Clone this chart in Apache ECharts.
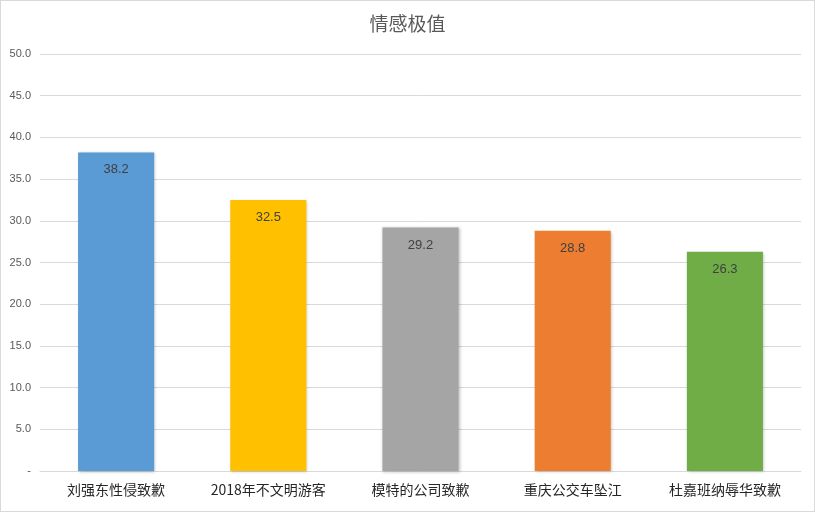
<!DOCTYPE html>
<html><head><meta charset="utf-8">
<script src="https://cdn.jsdelivr.net/npm/echarts@6/dist/echarts.min.js"></script>
<style>html,body{margin:0;padding:0;background:#fff}#c{width:813px;height:510px;border:1px solid #d9d9d9}</style>
</head><body><div id="c"></div>
<script>
var categories = ['刘强东性侵致歉','2018年不文明游客','模特的公司致歉','重庆公交车坠江','杜嘉班纳辱华致歉'];
var values = [38.2, 32.5, 29.2, 28.8, 26.3];
var colors = ['#5b9bd5','#ffc000','#a5a5a5','#ed7d31','#70ad47'];
var title = '情感极值';
var chart = echarts.init(document.getElementById('c'));
chart.setOption({
  animation:false,
  title:{text:title,left:'center',top:8,textStyle:{fontFamily:'Noto Sans CJK SC',fontSize:19,fontWeight:'normal',color:'#595959'}},
  grid:{left:39,right:13,top:53,bottom:40},
  xAxis:{type:'category',data:categories,axisTick:{show:false},
    axisLine:{lineStyle:{color:'#d9d9d9'}},
    axisLabel:{color:'#262626',fontSize:14,fontFamily:'Noto Sans CJK SC',margin:12}},
  yAxis:{type:'value',min:0,max:50,interval:5,
    axisLabel:{color:'#595959',fontSize:11,fontFamily:'Liberation Sans',margin:9,formatter:function(v){return v===0?'-':v.toFixed(1);}},
    splitLine:{lineStyle:{color:'#d9d9d9'}},axisLine:{show:false},axisTick:{show:false}},
  series:[{type:'bar',barWidth:'50%',
    data:values.map(function(v,i){return {value:v,itemStyle:{color:colors[i]}};}),
    itemStyle:{shadowColor:'rgba(0,0,0,0.25)',shadowBlur:3,shadowOffsetX:1,shadowOffsetY:1},
    label:{show:true,position:'insideTop',distance:11,color:'#404040',fontSize:13,fontFamily:'Liberation Sans',formatter:function(p){return p.value.toFixed(1);}}
  }]
});
</script></body></html>
